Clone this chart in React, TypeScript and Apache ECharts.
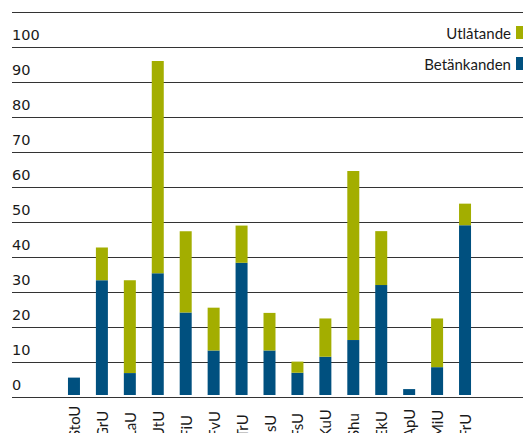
import React, { useEffect, useRef } from "react";
import * as echarts from "echarts";

const categories = ["StoU", "GrU", "LaU", "UtU", "FiU", "FvU", "TrU", "JsU", "FsU", "KuU", "Shu", "EkU", "ApU", "MiU", "FrU"];
const betankanden = [5, 33, 6.3, 35, 23.7, 12.8, 38, 12.8, 6.4, 11, 15.8, 31.6, 1.7, 8, 48.8];
const utlatande = [0, 9.4, 26.7, 61, 23.4, 12.3, 10.7, 10.8, 3.2, 11, 48.6, 15.5, 0, 14, 6.2];
const yTicks = [0, 10, 20, 30, 40, 50, 60, 70, 80, 90, 100];

const BLUE = "#00507f";
const GREEN = "#a3ae00";
const FONT = "Lato";
const NUM_FONT = "DejaVu Sans";

export default function App() {
  const ref = useRef<HTMLDivElement>(null);
  useEffect(() => {
    if (!ref.current) return;
    const chart = echarts.init(ref.current, null, { renderer: "svg" });
    const top = 12.3;
    const bottom = 441 - 397.5;
    chart.setOption({
      animation: false,
      textStyle: { fontFamily: FONT },
      legend: {
        data: ["Utlåtande", "Betänkanden"],
        orient: "vertical",
        right: -2,
        top: 20,
        align: "right",
        itemWidth: 12,
        itemHeight: 13,
        itemGap: 16,
        icon: "rect",
        textStyle: { fontFamily: FONT, fontSize: 15, color: "#1a1a1a" },
      },
      grid: [
        { left: 12, right: 0, top, bottom, containLabel: false },
        { left: 60, right: 52, top, bottom, containLabel: false },
      ],
      xAxis: [
        { type: "value", gridIndex: 0, show: false, min: 0, max: 1 },
        {
          type: "category",
          gridIndex: 1,
          data: categories,
          axisLine: { show: false },
          axisTick: { show: false },
          axisLabel: {
            rotate: 90,
            align: "left",
            margin: 43,
            fontFamily: FONT,
            fontSize: 15,
            color: "#1a1a1a",
            interval: 0,
          },
        },
      ],
      yAxis: [
        {
          type: "value",
          gridIndex: 0,
          min: 0,
          max: 110,
          interval: 10,
          axisLine: { show: false },
          axisTick: { show: false },
          splitLine: { show: true, lineStyle: { color: "#333333", width: 1 } },
          axisLabel: {
            inside: true,
            margin: 0,
            align: "left",
            verticalAlign: "bottom",
            padding: [0, 0, 5, 0],
            fontFamily: NUM_FONT,
            fontSize: 14.5,
            color: "#1a1a1a",
            formatter: (v: number) => (yTicks.includes(v) ? String(v) : ""),
          },
        },
        { type: "value", gridIndex: 1, min: 0, max: 110, show: false, splitLine: { show: false } },
      ],
      series: [
        {
          name: "Betänkanden",
          type: "bar",
          xAxisIndex: 1,
          yAxisIndex: 1,
          stack: "total",
          barWidth: 12,
          itemStyle: { color: BLUE },
          data: betankanden,
        },
        {
          name: "Utlåtande",
          type: "bar",
          xAxisIndex: 1,
          yAxisIndex: 1,
          stack: "total",
          barWidth: 12,
          itemStyle: { color: GREEN },
          data: utlatande,
        },
      ],
    });
    return () => chart.dispose();
  }, []);
  return <div ref={ref} style={{ width: 531, height: 441, margin: -8 }} />;
}
